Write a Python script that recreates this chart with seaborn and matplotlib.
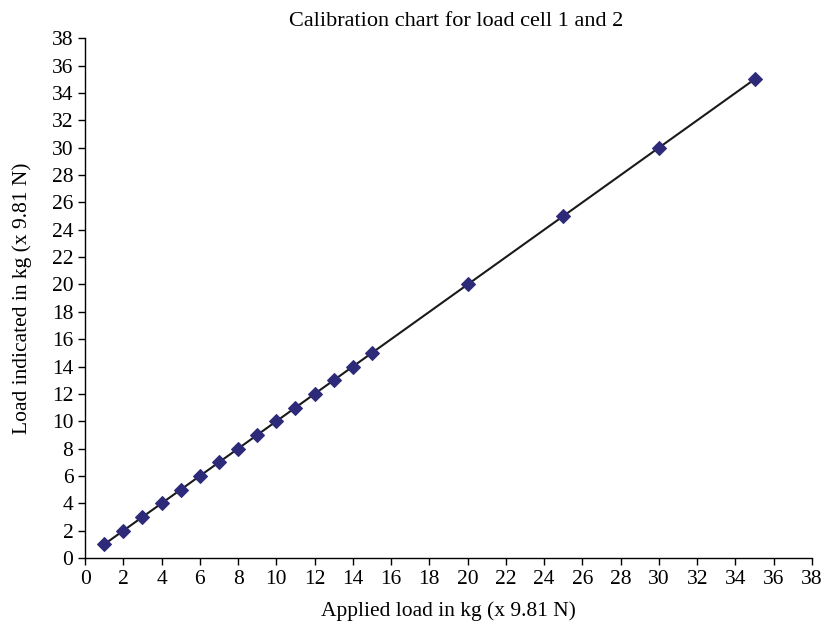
import matplotlib
matplotlib.use("Agg")
import matplotlib.pyplot as plt
import seaborn as sns
import pandas as pd

applied = [1, 2, 3, 4, 5, 6, 7, 8, 9, 10, 11, 12, 13, 14, 15, 20, 25, 30, 35]
indicated = [1, 2, 3, 4, 5, 6, 7, 8, 9, 10, 11, 12, 13, 14, 15, 20, 25, 30, 35]
ticks = list(range(0, 39, 2))

sns.set_style("ticks")
plt.rcParams['font.family'] = ['Liberation Serif', 'DejaVu Serif']
plt.rcParams['font.size'] = 15
plt.rcParams['text.color'] = 'black'
plt.rcParams['axes.labelcolor'] = 'black'

df = pd.DataFrame({"applied": applied, "indicated": indicated})

fig = plt.figure(figsize=(8.26, 6.27), dpi=100)
ax = fig.add_axes([0.103, 0.110, 0.880, 0.829])

sns.lineplot(data=df, x="applied", y="indicated", ax=ax, color="#1a1a1a",
             linewidth=1.5, marker="D", markersize=7.5,
             markerfacecolor="#2E2A7A", markeredgecolor="#2E2A7A", zorder=3)

ax.set_xlim(0, 38)
ax.set_ylim(0, 38)
ax.set_xticks(ticks)
ax.set_yticks(ticks)
ax.tick_params(axis='both', labelsize=15.5, direction='out', length=5, width=1,
               colors='black', labelcolor='black')
for s in ['top', 'right']:
    ax.spines[s].set_visible(False)
for s in ['left', 'bottom']:
    ax.spines[s].set_linewidth(1)
    ax.spines[s].set_color('black')

ax.set_xlabel("Applied load in kg (x 9.81 N)", fontsize=15.5, labelpad=9, color='black')
ax.set_ylabel("Load indicated in kg (x 9.81 N)", fontsize=15.5, labelpad=14, color='black')
ax.set_title("Calibration chart for load cell 1 and 2", fontsize=16, pad=9, color='black', x=0.51)

fig.savefig("out.png", dpi=100)
